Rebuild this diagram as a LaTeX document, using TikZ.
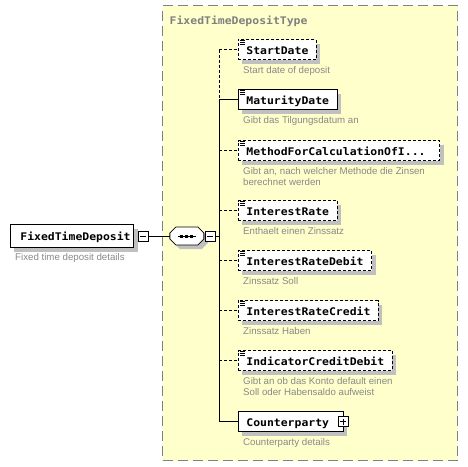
\documentclass[tikz,border=0pt]{standalone}
\usepackage{fontspec}
\setmainfont{Liberation Sans}
\newfontfamily\xsdmono{DejaVu Sans Mono}[FakeStretch=1.09]
\usetikzlibrary{positioning,calc}
\definecolor{xsdyellow}{RGB}{255,255,204}
\definecolor{xsdframe}{RGB}{128,128,128}
\definecolor{xsdshadow}{RGB}{192,192,192}
\definecolor{xsddoc}{RGB}{136,136,136}
\tikzset{
  elembox/.style={draw=black, fill=white, line width=0.8pt, anchor=west, minimum height=20pt, inner xsep=8pt, inner ysep=0pt, text height=10pt, text depth=1pt, font=\xsdmono\bfseries\fontsize{10.5}{12}\selectfont, preaction={fill=xsdshadow, transform canvas={shift={(4pt,-4pt)}}}},
  optbox/.style={elembox, dash pattern=on 3pt off 2pt},
  docnote/.style={anchor=north west, inner sep=0pt, align=left, text=xsddoc, font=\fontsize{9.7}{10.5}\selectfont},
  pmbox/.style={draw=black, fill=white, line width=0.8pt, minimum size=10pt, inner sep=0pt},
  minusbox/.style={pmbox, path picture={\draw[line width=0.8pt] ([xshift=2pt]path picture bounding box.west) -- ([xshift=-2pt]path picture bounding box.east);}},
  plusbox/.style={pmbox, path picture={\draw[line width=0.8pt] ([xshift=2pt]path picture bounding box.west) -- ([xshift=-2pt]path picture bounding box.east) ([yshift=-2pt]path picture bounding box.north) -- ([yshift=2pt]path picture bounding box.south);}},
  seqbox/.style={minimum width=34pt, minimum height=18pt, inner sep=0pt, outer sep=0pt},
  typebg/.style={draw=xsdframe, fill=xsdyellow, line width=1.2pt, dash pattern=on 10pt off 5pt, inner sep=0pt, anchor=north west},
  conn/.style={line width=0.8pt},
  optconn/.style={conn, dash pattern=on 3pt off 2pt}
}
% the small "documented" mark in the top left corner of an element
\newcommand{\xsdlines}[1]{\foreach \k in {1.5,3.5,5.5} {\draw[line width=0.6pt] ([shift={(2,\k)}]#1.north west) -- ++(5,0);}}
% octagon outline of a compositor node
\newcommand{\octpath}[1]{($(#1.north west)+(6,0)$) -- ($(#1.north east)+(-6,0)$) -- ($(#1.north east)+(0,6)$) -- ($(#1.south east)+(0,-6)$) -- ($(#1.south east)+(-6,0)$) -- ($(#1.south west)+(6,0)$) -- ($(#1.south west)+(0,-6)$) -- ($(#1.north west)+(0,6)$) -- cycle}

\begin{document}
\begin{tikzpicture}[x=1pt, y=-1pt]
  \useasboundingbox (0,0) rectangle (468,466);

  %--- Complex type frame ---
  \node[typebg, minimum width=295pt, minimum height=455pt] (ftdtype) at (162,5) {};
  \node[anchor=base west, inner sep=0pt, text=xsdframe, font=\xsdmono\bfseries\fontsize{10.5}{12}\selectfont] (typetitle) at (169.5,24) {FixedTimeDepositType};

  %--- Global element ---
  \node[elembox, minimum height=23pt, inner xsep=3pt] (ftd) at (10,236) {\hspace*{7pt}FixedTimeDeposit};
  \node[minusbox, right=4pt of ftd] (ftdminus) {};
  \node[docnote] (ftddoc) at ([shift={(5,5)}]ftd.south west) {Fixed time deposit details};

  %--- Sequence ---
  \node[seqbox, right=21pt of ftdminus] (seq) {};
  \fill[xsdshadow, transform canvas={shift={(4pt,-4pt)}}] \octpath{seq};
  \draw[conn, fill=white] \octpath{seq};
  \node[minusbox, right=1pt of seq] (seqminus) {};
  \draw[conn] ([xshift=-9pt]seq.center) -- ([xshift=9pt]seq.center);
  \foreach \d in {-5,0,5}
    \fill ([shift={(\d-1.5,-1.5)}]seq.center) rectangle ++(3,3);

  \draw[conn] (ftdminus) -- (seq);
  \draw[conn] (seqminus) -- ++(9,0) coordinate (trunk);

  %--- Child elements ---
  \node[optbox] (startdate) at (238,49.5) {StartDate};
  \node[elembox] (maturity) at (238,99.5) {MaturityDate};
  \node[optbox] (method) at (238,150.5) {MethodForCalculationOfI...\hspace*{6pt}};
  \node[optbox] (intrate) at (238,210.5) {InterestRate};
  \node[optbox] (intdebit) at (238,260.5) {InterestRateDebit};
  \node[optbox] (intcredit) at (238,310.5) {InterestRateCredit};
  \node[optbox] (indicator) at (238,360.5) {IndicatorCreditDebit};
  \node[elembox] (counterparty) at (238,421.5) {Counterparty\hspace*{6pt}};
  \node[plusbox] (cpplus) at (counterparty.east) {};

  \foreach \n in {startdate,maturity,method,intrate,intdebit,intcredit,indicator}
    {\xsdlines{\n}}

  % annotations
  \node[docnote] (startdoc) at ([shift={(5,6.5)}]startdate.south west) {Start date of deposit};
  \node[docnote] (maturitydoc) at ([shift={(5,6.5)}]maturity.south west) {Gibt das Tilgungsdatum an};
  \node[docnote] (methoddoc) at ([shift={(5,6.5)}]method.south west) {Gibt an, nach welcher Methode die Zinsen\\berechnet werden};
  \node[docnote] (intratedoc) at ([shift={(5,6.5)}]intrate.south west) {Enthaelt einen Zinssatz};
  \node[docnote] (intdebitdoc) at ([shift={(5,6.5)}]intdebit.south west) {Zinssatz Soll};
  \node[docnote] (intcreditdoc) at ([shift={(5,6.5)}]intcredit.south west) {Zinssatz Haben};
  \node[docnote] (indicatordoc) at ([shift={(5,6.5)}]indicator.south west) {Gibt an ob das Konto default einen\\Soll oder Habensaldo aufweist};
  \node[docnote] (cpdoc) at ([shift={(5,6.5)}]counterparty.south west) {Counterparty details};

  %--- Sequence branches ---
  \draw[optconn] (trunk |- startdate.west) -- (trunk |- maturity.west);
  \draw[conn] (trunk |- maturity.west) -- (trunk |- counterparty.west);
  \draw[optconn] (trunk |- startdate.west) -- (startdate.west);
  \draw[conn] (trunk |- maturity.west) -- (maturity.west);
  \draw[optconn] (trunk |- method.west) -- (method.west);
  \draw[optconn] (trunk |- intrate.west) -- (intrate.west);
  \draw[optconn] (trunk |- intdebit.west) -- (intdebit.west);
  \draw[optconn] (trunk |- intcredit.west) -- (intcredit.west);
  \draw[optconn] (trunk |- indicator.west) -- (indicator.west);
  \draw[conn] (trunk |- counterparty.west) -- (counterparty.west);
\end{tikzpicture}
\end{document}
